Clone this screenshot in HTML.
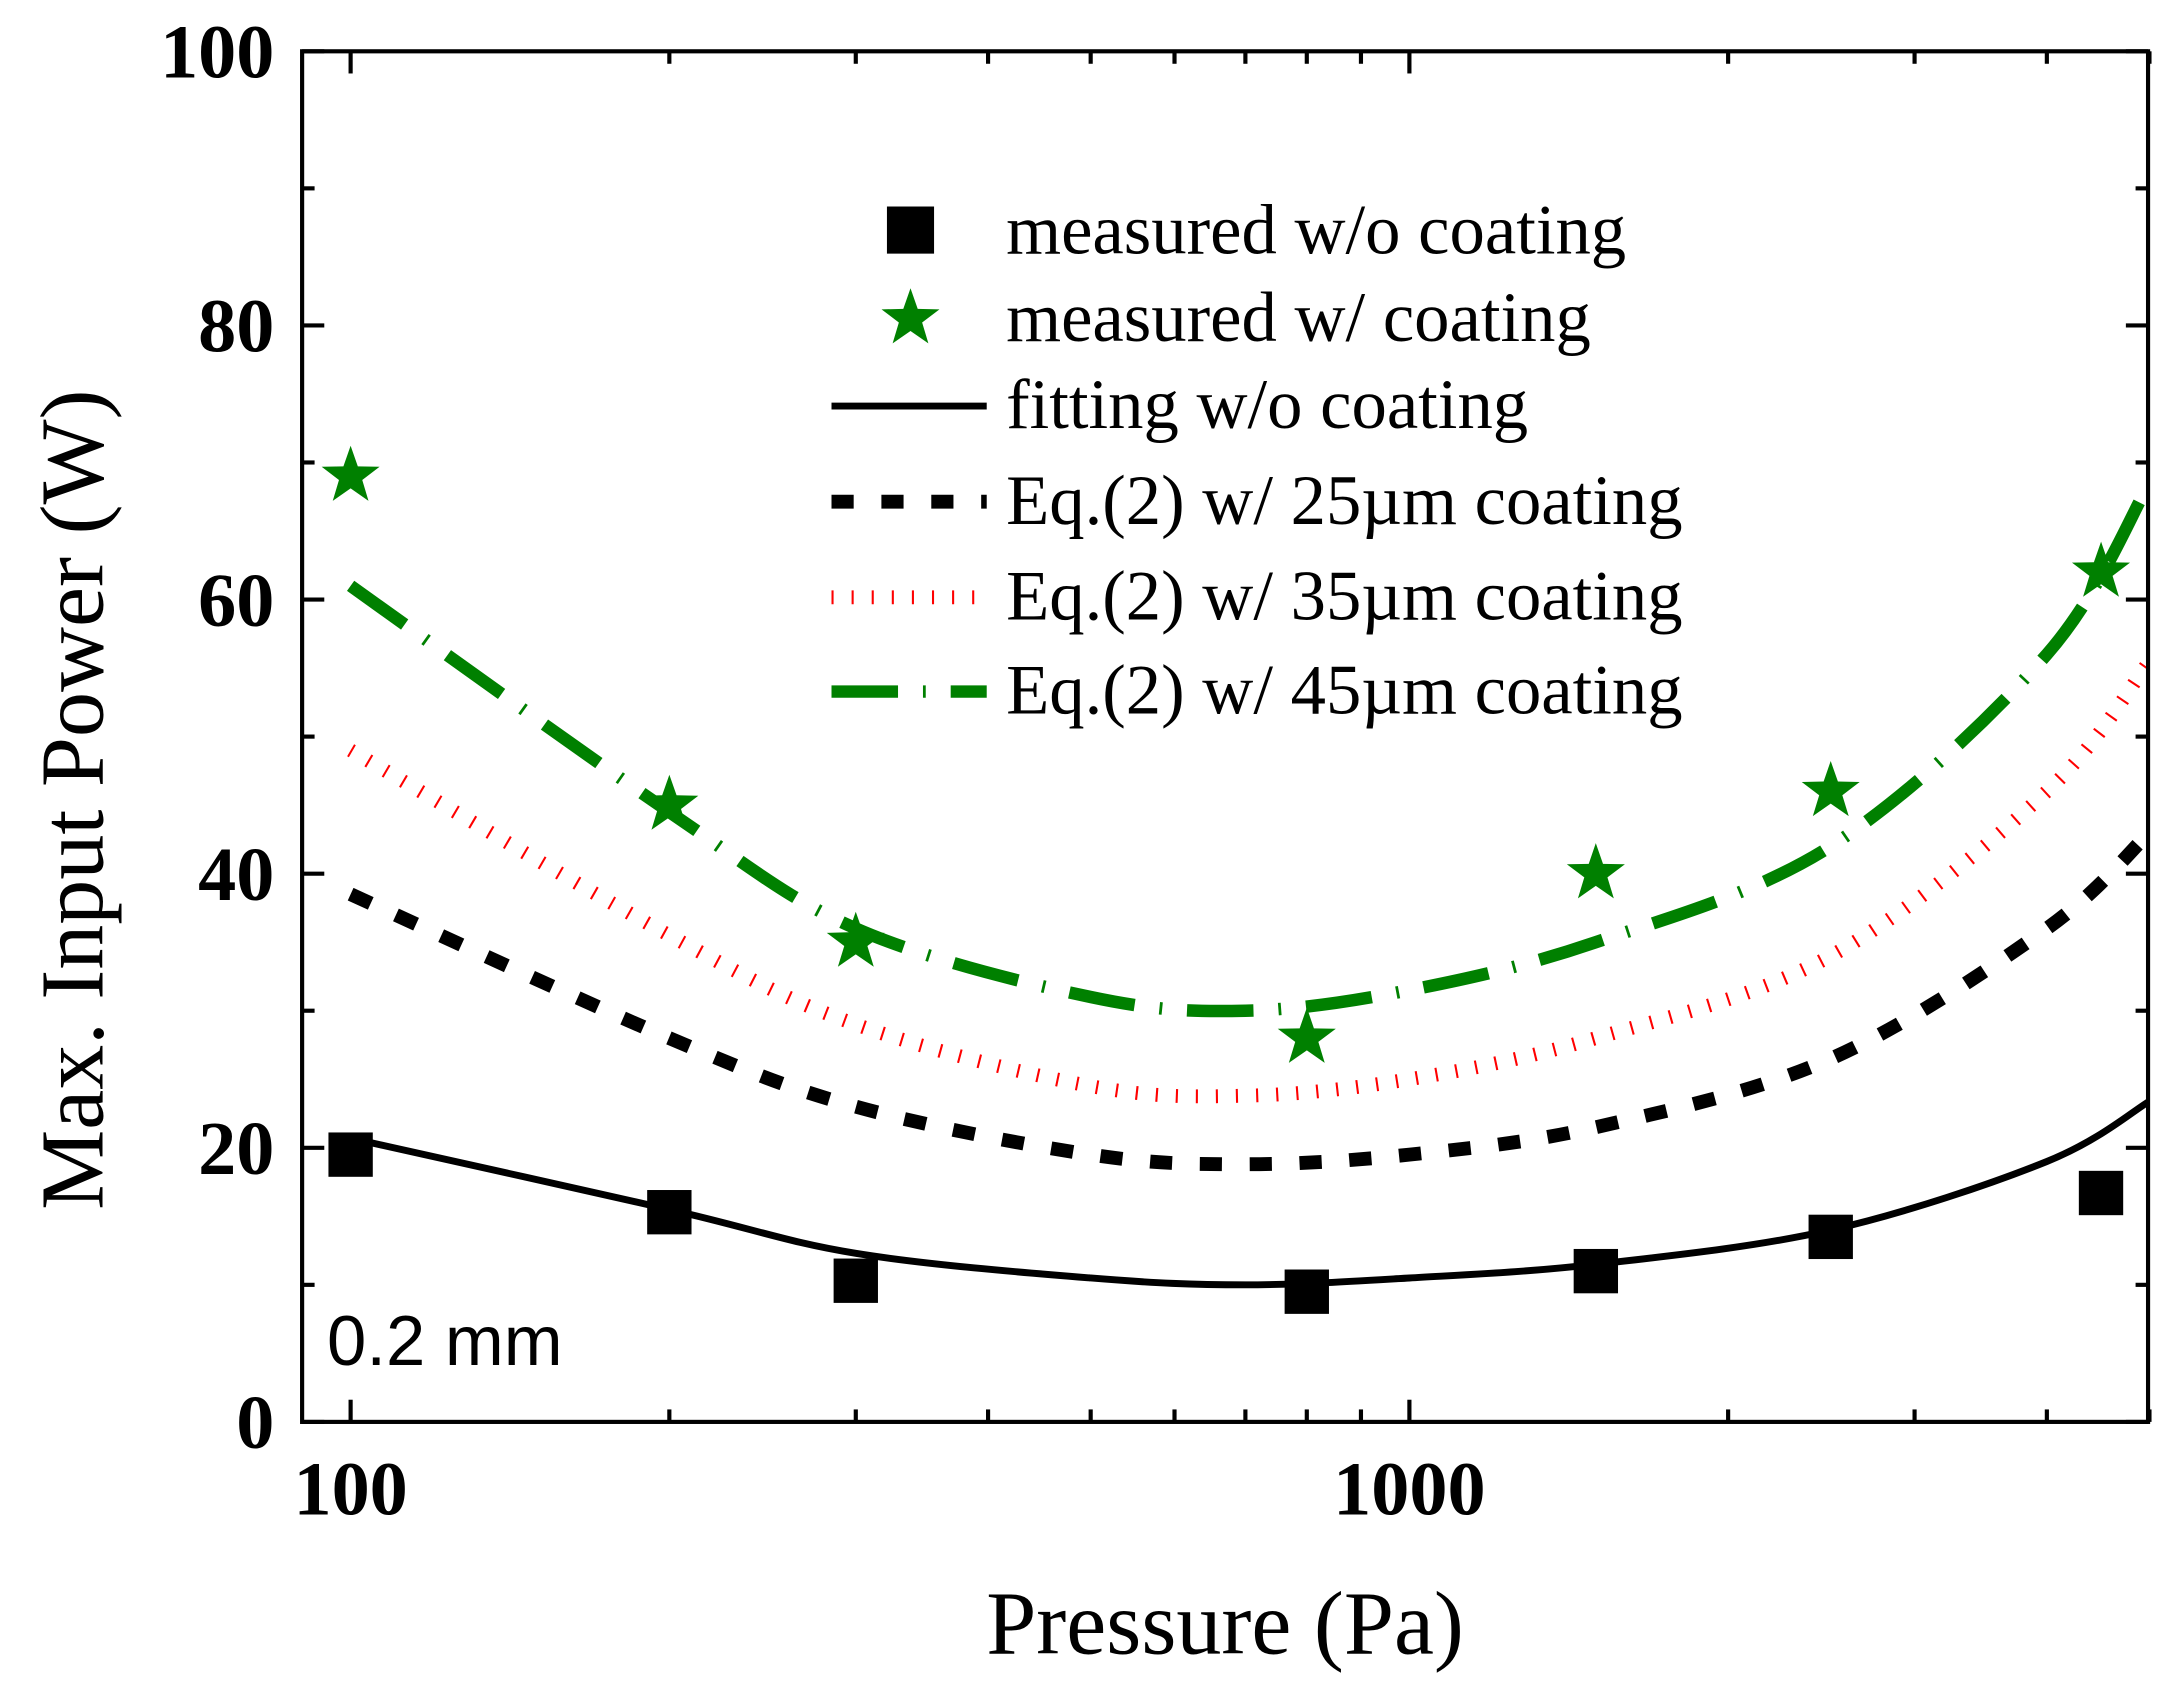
<!DOCTYPE html>
<html><head><meta charset="utf-8"><style>
html,body{margin:0;padding:0;background:#fff}
svg{display:block}
text{font-family:"Liberation Serif",serif}
</style></head><body>
<svg id="chart" width="2173" height="1688" viewBox="0 0 1568 1218" xmlns="http://www.w3.org/2000/svg">
<g id="marks"></g>
<rect x="218" y="37" width="1332" height="989" fill="none" stroke="#000" stroke-width="3"/>
<g id="axes"></g>
<text transform="translate(74,577) rotate(-90)" text-anchor="middle" font-size="65">Max. Input Power (W)</text>
<text x="884" y="1193" text-anchor="middle" font-size="65">Pressure (Pa)</text>
<text x="236" y="985" font-size="51" style="font-family:'Liberation Sans',sans-serif">0.2 mm</text>
<g id="legend"></g>
</svg>
<script>
const measPressure=[100,200,300,800,1500,2500,4500];
const measNoCoat=[19.5,15.3,10.3,9.5,11,13.5,16.7];
const measCoat=[69,45,35,28,40,46,62];
const curvePressure=[100,200,300,500,700,1000,1500,2500,4000,5000];
const fitNoCoat=[20.7,15.5,12.3,10.5,10,10.5,11.5,14,19,23.4];
const eq25=[38.5,28,23,19.5,18.8,19.5,21.5,26.5,36,43];
const eq35=[49,35.5,29,24.5,23.8,25,28,34,46,55.5];
const eq45=[61,44.5,36,31,30,31.5,35,42,56,68.5];
const yTicks=[0,20,40,60,80,100];
const xTickLabels=[100,1000];

const NS="http://www.w3.org/2000/svg";
const X0=218,X1=1550,Y0=1026,Y1=37;
const xs=p=>253+764*Math.log10(p/100);
const ys=v=>Y0-(v/100)*(Y0-Y1);
function mk(tag,attrs,parent){const e=document.createElementNS(NS,tag);for(const k in attrs)e.setAttribute(k,attrs[k]);parent.appendChild(e);return e;}
const marks=document.getElementById('marks'),axes=document.getElementById('axes'),leg=document.getElementById('legend');

function smoothPath(px,vals){
  const pts=px.map((p,i)=>[xs(p),ys(vals[i])]);
  let d=`M${pts[0][0]},${pts[0][1]}`;
  for(let i=0;i<pts.length-1;i++){
    const p0=pts[Math.max(i-1,0)],p1=pts[i],p2=pts[i+1],p3=pts[Math.min(i+2,pts.length-1)];
    const c1=[p1[0]+(p2[0]-p0[0])/6,p1[1]+(p2[1]-p0[1])/6];
    const c2=[p2[0]-(p3[0]-p1[0])/6,p2[1]-(p3[1]-p1[1])/6];
    d+=` C${c1[0]},${c1[1]} ${c2[0]},${c2[1]} ${p2[0]},${p2[1]}`;
  }
  return d;
}
const cp=mk('clipPath',{id:'clip'},marks);mk('rect',{x:X0,y:Y1,width:X1-X0,height:Y0-Y1},cp);
const cg=mk('g',{'clip-path':'url(#clip)'},marks);
const styles={
  fit:{stroke:'#000','stroke-width':5,fill:'none'},
  e25:{stroke:'#000','stroke-width':10,fill:'none','stroke-dasharray':'16 20'},
  e35:{stroke:'#ff0000','stroke-width':10,fill:'none','stroke-dasharray':'1.5 13'},
  e45:{stroke:'#008000','stroke-width':9,fill:'none','stroke-dasharray':'48 18 2 18'}
};
let el;
el=mk('path',Object.assign({d:smoothPath(curvePressure,eq35)},styles.e35),cg);


el=mk('path',Object.assign({d:smoothPath(curvePressure,eq25)},styles.e25),cg);


el=mk('path',Object.assign({d:smoothPath(curvePressure,eq45)},styles.e45),cg);


el=mk('path',Object.assign({d:smoothPath(curvePressure,fitNoCoat)},styles.fit),cg);



function star(cx,cy,r){let p=[];for(let i=0;i<10;i++){const a=-Math.PI/2+i*Math.PI/5;const rr=i%2?r*0.4:r;p.push((cx+rr*Math.cos(a)).toFixed(1)+','+(cy+rr*Math.sin(a)).toFixed(1));}return p.join(' ');}
measPressure.forEach((p,i)=>{
  const s=mk('rect',{x:xs(p)-16,y:ys(measNoCoat[i])-16,width:32,height:32,fill:'#000'},marks);
  
  
  const t=mk('polygon',{points:star(xs(p),ys(measCoat[i]),22),fill:'#008000'},marks);
  
  
});

for(let v=0;v<=100;v+=10){
  const y=ys(v),L=v%20===0?16:9;
  mk('line',{x1:X0,x2:X0+L,y1:y,y2:y,stroke:'#000','stroke-width':3},axes);
  mk('line',{x1:X1,x2:X1-L,y1:y,y2:y,stroke:'#000','stroke-width':3},axes);
}
yTicks.forEach(v=>{const t=mk('text',{x:198,y:ys(v)+19,'text-anchor':'end','font-size':55,'font-weight':'bold'},axes);t.textContent=v;

});
for(let dec=100;dec<=1000;dec*=10){for(let m=1;m<=9;m++){const p=dec*m;if(p>5000)break;const x=xs(p);if(x<X0)continue;const L=m===1?16:9;
  mk('line',{x1:x,x2:x,y1:Y0,y2:Y0-L,stroke:'#000','stroke-width':3},axes);
  mk('line',{x1:x,x2:x,y1:Y1,y2:Y1+L,stroke:'#000','stroke-width':3},axes);}}
xTickLabels.forEach(p=>{const t=mk('text',{x:xs(p),y:1093,'text-anchor':'middle','font-size':55,'font-weight':'bold'},axes);t.textContent=p;

});

const entries=[['measured w/o coating','sq'],['measured w/ coating','star'],['fitting w/o coating','fit'],['Eq.(2) w/ 25µm coating','e25'],['Eq.(2) w/ 35µm coating','e35'],['Eq.(2) w/ 45µm coating','e45']];
const ly=[167,230,293,362,431,499];
entries.forEach((e,i)=>{
  const y=ly[i];
  if(e[1]==='sq')mk('rect',{x:640,y:y-18,width:34,height:34,fill:'#000'},leg);
  else if(e[1]==='star')mk('polygon',{points:star(657,y,22),fill:'#008000'},leg);
  else mk('line',Object.assign({x1:600,x2:712,y1:y,y2:y},styles[e[1]]),leg);
  const t=mk('text',{x:726,y:y+16,'font-size':51},leg);t.textContent=e[0];
  
  
});
</script>
</body></html>
